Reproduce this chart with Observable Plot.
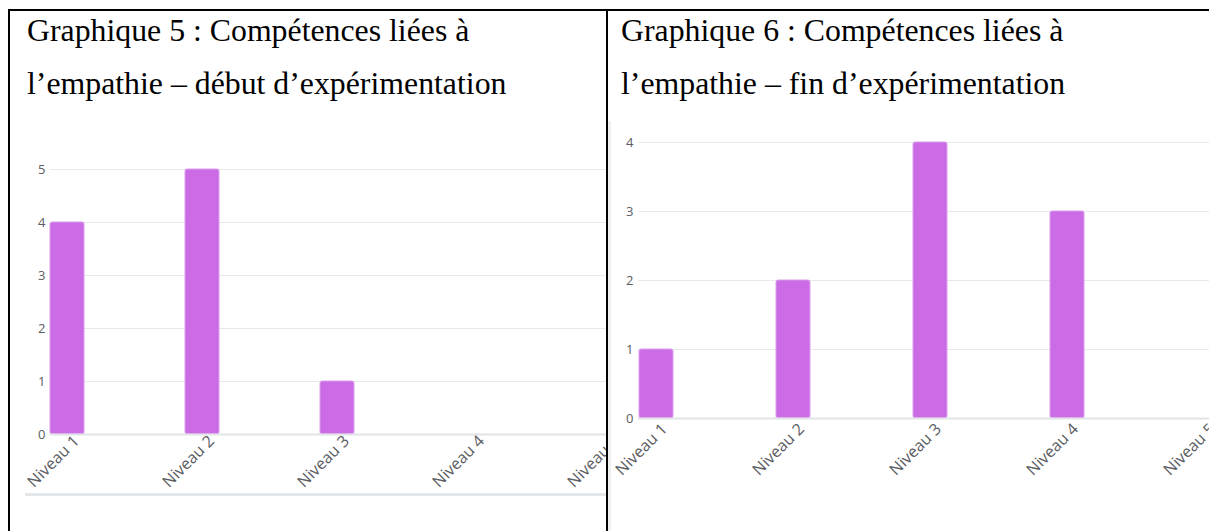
<!DOCTYPE html>
<html><head><meta charset="utf-8">
<script src="https://cdn.jsdelivr.net/npm/d3@7"></script>
<script src="https://cdn.jsdelivr.net/npm/@observablehq/plot@0.6"></script>
<style>
html,body{margin:0;padding:0;background:#fff;}
#page{position:relative;width:1209px;height:531px;overflow:hidden;background:#fff;}
.b{position:absolute;background:#000;}
.title{position:absolute;font-family:"Liberation Serif","Times New Roman",serif;font-size:31.8px;line-height:53px;color:#000;white-space:nowrap;}
.clip{position:absolute;overflow:hidden;}
.clip svg{display:block;overflow:hidden;}
.clip svg text{font-family:"Open Sans",sans-serif !important;}
.clip svg g[aria-label="y-axis tick label"] text{font-size:13px !important;}
.clip svg g[aria-label="x-axis tick label"] text{font-size:16px !important;}
</style></head>
<body>
<div id="page">
  <div class="title" style="left:27px;top:4px;">Graphique 5 : Compétences liées à<br>l’empathie – début d’expérimentation</div>
  <div class="title" style="left:621px;top:4px;">Graphique 6 : Compétences liées à<br>l’empathie – fin d’expérimentation</div>
  <div id="c1" class="clip" style="left:9px;top:130px;width:597px;height:401px;"></div>
  <div id="c2" class="clip" style="left:608px;top:121px;width:601px;height:410px;"></div>
  <div style="position:absolute;left:25px;top:493px;width:581px;height:3px;background:#e4e7ea;"></div>
  <div style="position:absolute;left:608px;top:121px;width:3px;height:410px;background:#eef0f2;"></div>
  <div class="b" style="left:8px;top:9px;width:1201px;height:2px;"></div>
  <div class="b" style="left:8px;top:9px;width:2px;height:522px;"></div>
  <div class="b" style="left:606px;top:9px;width:2px;height:522px;"></div>
</div>
<script>
const niveaux = ["Niveau 1", "Niveau 2", "Niveau 3", "Niveau 4", "Niveau 5"];
const debutValues = [4, 5, 1, 0, 0];
const finValues = [1, 2, 4, 3, 0];
const debutTicks = [0, 1, 2, 3, 4, 5];
const finTicks = [0, 1, 2, 3, 4];

const barColor = "#cb6ce6";
const labelColor = "#5a5d62";

function chart({values, ticks, width, height, marginLeft, marginTop, frameBottom, step, xStart, labelPad, labelDx}) {
  const data = niveaux.map((n, i) => ({n, v: values[i]}));
  const pi = 1 - 34 / step;
  return Plot.plot({
    width, height,
    marginLeft, marginRight: 0, marginTop, marginBottom: height - frameBottom,
    style: {background: "transparent", overflow: "hidden"},
    x: {type: "band", domain: niveaux, range: [xStart, xStart + step * (niveaux.length - pi)], paddingInner: pi, paddingOuter: 0, align: 0, label: null},
    y: {domain: [0, d3.max(ticks)], label: null},
    marks: [
      Plot.gridY(ticks.filter(t => t > 0), {stroke: "#e9e9e9", strokeOpacity: 1}),
      Plot.barY(data.filter(d => d.v > 0), {x: "n", y: "v", fill: barColor, stroke: "#dc9cef", strokeWidth: 1, rx: 2}),
      Plot.ruleY([0], {stroke: "#e2e3e6", strokeWidth: 2}),
      Plot.axisY(ticks, {tickSize: 0, tickPadding: 5, tickFormat: d => String(d), fontSize: 13, fill: labelColor}),
      Plot.axisX({tickRotate: -45, tickSize: 0, tickPadding: labelPad, dx: labelDx, fontSize: 16, fill: labelColor})
    ]
  });
}

document.getElementById("c1").appendChild(chart({
  values: debutValues, ticks: debutTicks, width: 597, height: 401,
  marginLeft: 41, marginTop: 39, frameBottom: 304, step: 135, xStart: 41, labelPad: 4, labelDx: 9
}));
document.getElementById("c2").appendChild(chart({
  values: finValues, ticks: finTicks, width: 601, height: 410,
  marginLeft: 30, marginTop: 21, frameBottom: 297, step: 137.5, xStart: 31, labelPad: 8, labelDx: 8
}));
</script>
</body></html>
